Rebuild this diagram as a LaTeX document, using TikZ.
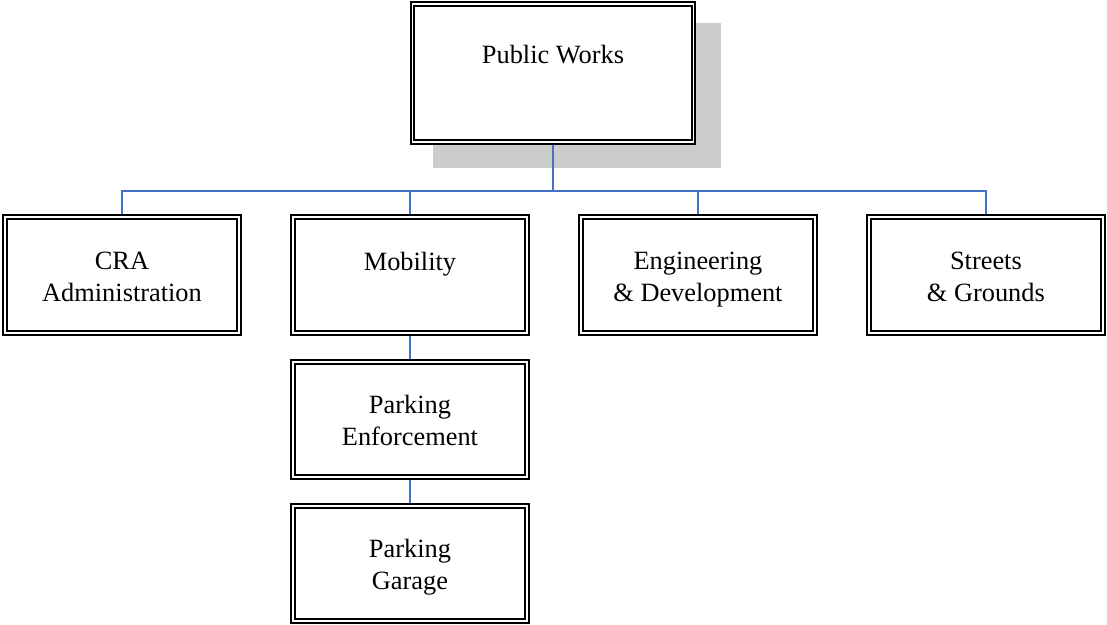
\documentclass[tikz,border=0pt]{standalone}
\usepackage{fontspec}
\setmainfont{Liberation Serif}
\usepackage{tikz}
\usetikzlibrary{positioning,backgrounds}
\usepackage{xcolor}
\definecolor{linkblue}{RGB}{68,114,196}
\definecolor{shadowgray}{RGB}{204,204,204}

\begin{document}
\begin{tikzpicture}[
    headbox/.style={rectangle, draw=black, fill=white, double=white, line width=1.2pt, double distance=1.0pt, outer sep=1.7pt, minimum width=5.62cm, minimum height=2.76cm},
    unitbox/.style={rectangle, draw=black, fill=white, double=white, line width=1.2pt, double distance=1.0pt, outer sep=1.7pt, minimum width=4.68cm, minimum height=2.32cm},
    subbox/.style={unitbox, minimum height=2.30cm},
    unittext/.style={inner sep=0pt, align=center, font=\fontsize{15}{18.1}\selectfont},
    link/.style={draw=linkblue, line width=1.1pt}
]
\useasboundingbox (0,0) rectangle (22.14,-12.5);

% Head of department
\node[headbox] (pw) at (11.06,-1.46) {};
\node[unittext, below=0.88cm of pw.north] (pwtext) {Public Works};

% Shadow behind the head box
\begin{scope}[on background layer]
\fill[shadowgray] ([shift={(0.46,-0.46)}]pw.south west) rectangle ([shift={(0.50,-0.44)}]pw.north east);
\end{scope}

% Divisions
\node[unitbox] (cra) at (2.44,-5.5) {};
\node[unitbox, right=0.96cm of cra] (mob) {};
\node[unitbox, right=0.96cm of mob] (eng) {};
\node[unitbox, right=0.96cm of eng] (str) {};

\node[unittext, below=0.75cm of cra.north] (cratext) {CRA\\Administration};
\node[unittext, below=0.75cm of mob.north] (mobtext) {Mobility};
\node[unittext, below=0.75cm of eng.north] (engtext) {Engineering\\\& Development};
\node[unittext, below=0.75cm of str.north] (strtext) {Streets\\\& Grounds};

% Under Mobility
\node[subbox, below=0.46cm of mob] (pe) {};
\node[subbox, below=0.46cm of pe] (pg) {};

\node[unittext, below=0.72cm of pe.north] (petext) {Parking\\Enforcement};
\node[unittext, below=0.72cm of pg.north] (pgtext) {Parking\\Garage};

% Connectors
\coordinate[below=0.92cm of pw] (bus);
\draw[link] (pw) -- (bus);
\foreach \u in {cra,mob,eng,str}
    \draw[link] (bus) -| (\u.north);
\draw[link] (mob) -- (pe);
\draw[link] (pe) -- (pg);

\end{tikzpicture}
\end{document}
